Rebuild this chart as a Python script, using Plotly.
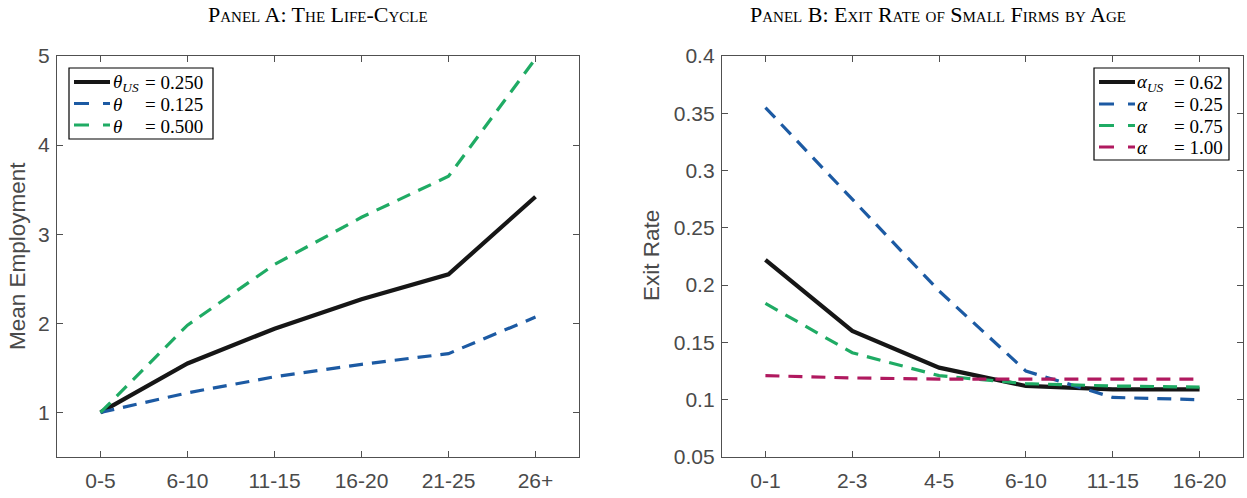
import plotly.graph_objects as go

# ---------------- data ----------------
age_groups_a = ["0-5", "6-10", "11-15", "16-20", "21-25", "26+"]
emp_theta_us = [1.00, 1.55, 1.94, 2.27, 2.55, 3.42]
emp_theta_low = [1.00, 1.22, 1.40, 1.54, 1.66, 2.07]
emp_theta_high = [1.00, 1.98, 2.66, 3.19, 3.65, 4.97]

age_groups_b = ["0-1", "2-3", "4-5", "6-10", "11-15", "16-20"]
exit_alpha_us = [0.222, 0.160, 0.128, 0.112, 0.109, 0.109]
exit_alpha_025 = [0.355, 0.275, 0.195, 0.125, 0.102, 0.100]
exit_alpha_075 = [0.184, 0.141, 0.121, 0.114, 0.112, 0.111]
exit_alpha_100 = [0.121, 0.119, 0.118, 0.118, 0.118, 0.118]

yticks_a = [1, 2, 3, 4, 5]
yticks_b = [0.05, 0.1, 0.15, 0.2, 0.25, 0.3, 0.35, 0.4]
yticktext_b = ["0.05", "0.1", "0.15", "0.2", "0.25", "0.3", "0.35", "0.4"]

legend_a_symbols = ["<i>θ</i><sub><i>US</i></sub>", "<i>θ</i>", "<i>θ</i>"]
legend_a_values = ["= 0.250", "= 0.125", "= 0.500"]
legend_b_symbols = ["<i>α</i><sub><i>US</i></sub>", "<i>α</i>", "<i>α</i>", "<i>α</i>"]
legend_b_values = ["= 0.62", "= 0.25", "= 0.75", "= 1.00"]

# ---------------- styles ----------------
W, H = 1247, 498
BLACK = "#161616"
BLUE = "#1c5aa3"
GREEN = "#1fab64"
MAGENTA = "#b0195f"
AXC = "#505050"
DASH = "14px,9px"

def px(x):
    return x / W

def py(y):
    return 1 - y / H

fig = go.Figure()

def add(x, y, color, dash, width, xa, ya):
    fig.add_trace(go.Scatter(
        x=x, y=y, mode="lines", showlegend=False,
        line=dict(color=color, width=width, dash=dash),
        xaxis=xa, yaxis=ya, hoverinfo="skip"))

add(age_groups_a, emp_theta_us, BLACK, "solid", 4.2, "x", "y")
add(age_groups_a, emp_theta_low, BLUE, DASH, 3.2, "x", "y")
add(age_groups_a, emp_theta_high, GREEN, DASH, 3.2, "x", "y")

add(age_groups_b, exit_alpha_us, BLACK, "solid", 4.2, "x2", "y2")
add(age_groups_b, exit_alpha_025, BLUE, DASH, 3.2, "x2", "y2")
add(age_groups_b, exit_alpha_075, GREEN, DASH, 3.2, "x2", "y2")
add(age_groups_b, exit_alpha_100, MAGENTA, DASH, 3.2, "x2", "y2")

ydom = [py(457), py(56)]
tickfont = dict(family="Liberation Sans, Arial, sans-serif", size=21, color="#4a4a4a")

def xax(dom, anchor, cats):
    return dict(domain=dom, anchor=anchor, type="category",
                categoryorder="array", categoryarray=cats,
                range=[-0.5, 5.5], showgrid=False, zeroline=False, automargin=False,
                showline=True, linecolor=AXC, linewidth=1.4, mirror="ticks",
                ticks="inside", ticklen=6, tickwidth=1.2, tickcolor=AXC,
                tickfont=tickfont, ticklabelstandoff=5)

def yax(anchor, rng, tv, tt):
    return dict(domain=ydom, anchor=anchor, range=rng, tickvals=tv, ticktext=tt,
                showgrid=False, zeroline=False, automargin=False,
                showline=True, linecolor=AXC, linewidth=1.4, mirror="ticks",
                ticks="inside", ticklen=6, tickwidth=1.2, tickcolor=AXC,
                tickfont=tickfont, ticklabelstandoff=2)

shapes = []
annotations = []
legfont = dict(family="Liberation Serif, Times New Roman, serif", size=19, color="black")

def build_legend(box, rows, sample_x, sym_x, eq_x, colors, symbols, values):
    x0, y0, x1, y1 = box
    shapes.append(dict(type="rect", xref="paper", yref="paper",
                       x0=px(x0), x1=px(x1), y0=py(y0), y1=py(y1),
                       line=dict(color="black", width=1.2), fillcolor="white",
                       layer="above"))
    for i, (yy, c, s, v) in enumerate(zip(rows, colors, symbols, values)):
        solid = i == 0
        shapes.append(dict(type="line", xref="paper", yref="paper",
                           x0=px(sample_x[0]), x1=px(sample_x[1]), y0=py(yy), y1=py(yy),
                           line=dict(color=c, width=4.2 if solid else 3.2,
                                     dash="solid" if solid else "15px,14px"),
                           layer="above"))
        annotations.append(dict(text=s, x=px(sym_x), y=py(yy + 1), xref="paper", yref="paper",
                                xanchor="left", yanchor="middle", showarrow=False,
                                font=legfont, borderpad=0))
        annotations.append(dict(text=v, x=px(eq_x), y=py(yy + 1), xref="paper", yref="paper",
                                xanchor="left", yanchor="middle", showarrow=False,
                                font=legfont, borderpad=0))

build_legend((69, 68, 213, 139), [82, 103.5, 125], (74, 110), 112, 144,
             [BLACK, BLUE, GREEN], legend_a_symbols, legend_a_values)
build_legend((1094, 68, 1229, 160), [82, 104, 125.5, 147], (1099, 1135), 1136, 1173,
             [BLACK, BLUE, GREEN, MAGENTA], legend_b_symbols, legend_b_values)

titlefont = dict(family="Liberation Serif, Times New Roman, serif", size=22, color="black",
                 variant="small-caps")
labelfont = dict(family="Liberation Sans, Arial, sans-serif", size=22.5, color="#4a4a4a")
annotations += [
    dict(text="Panel A: The Life-Cycle", x=px(318), y=py(14), xref="paper", yref="paper",
         xanchor="center", yanchor="middle", showarrow=False, font=titlefont, borderpad=0),
    dict(text="Panel B: Exit Rate of Small Firms by Age", x=px(938), y=py(14),
         xref="paper", yref="paper", xanchor="center", yanchor="middle",
         showarrow=False, font=titlefont, borderpad=0),
    dict(text="Mean Employment", x=px(18), y=py(256), xref="paper", yref="paper",
         xanchor="center", yanchor="middle", textangle=-90, showarrow=False,
         font=labelfont),
    dict(text="Exit Rate", x=px(652), y=py(256), xref="paper", yref="paper",
         xanchor="center", yanchor="middle", textangle=-90, showarrow=False,
         font=labelfont),
]

fig.update_layout(
    template="none",
    width=W, height=H,
    margin=dict(l=0, r=0, t=0, b=0, pad=0, autoexpand=False),
    paper_bgcolor="white", plot_bgcolor="white",
    showlegend=False,
    xaxis=xax([px(57), px(579)], "y", age_groups_a),
    yaxis=yax("x", [0.5, 5], yticks_a, [str(v) for v in yticks_a]),
    xaxis2=xax([px(722), px(1243)], "y2", age_groups_b),
    yaxis2=yax("x2", [0.05, 0.4], yticks_b, yticktext_b),
    shapes=shapes,
    annotations=annotations,
)

fig.write_html("out.html", config={"displayModeBar": False})
